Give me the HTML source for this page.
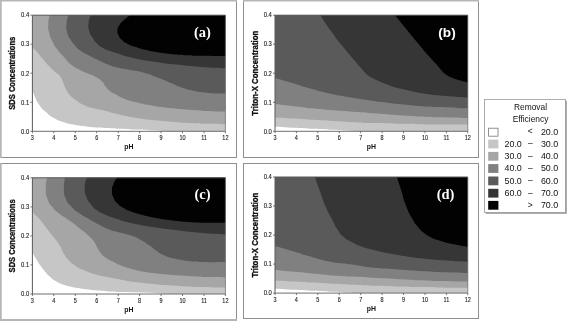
<!DOCTYPE html>
<html><head><meta charset="utf-8"><title>Contour plots</title>
<style>
html,body{margin:0;padding:0;background:#fff;}
body{width:567px;height:321px;overflow:hidden;position:relative;font-family:"Liberation Sans",sans-serif;}
svg{position:absolute;left:0;top:0;display:block;will-change:transform;}
.tk{font-family:"Liberation Sans",sans-serif;font-size:6.4px;fill:#1c1c1c;stroke:#1c1c1c;stroke-width:0.12px;}
.ax{font-family:"Liberation Sans",sans-serif;font-size:8.4px;font-weight:bold;fill:#111;stroke:#111;stroke-width:0.32px;}
.ph{font-family:"Liberation Sans",sans-serif;font-size:6.9px;font-weight:bold;fill:#111;}
.tgs{font-family:"Liberation Serif",serif;font-size:14.5px;font-weight:bold;fill:#fff;}
.tgn{font-family:"Liberation Sans",sans-serif;font-size:13.6px;font-weight:bold;fill:#fff;}
.lg{font-family:"Liberation Sans",sans-serif;font-size:8.4px;fill:#111;}
.ln{font-family:"Liberation Sans",sans-serif;font-size:8.9px;fill:#111;}
</style></head><body>
<svg width="567" height="321" viewBox="0 0 567 321">
<rect x="0" y="0" width="567" height="321" fill="#fff"/>
<rect x="0.00" y="0.00" width="237.00" height="1.50" fill="#b6b6b6"/>
<rect x="0.00" y="0.00" width="1.70" height="158.00" fill="#b6b6b6"/>
<rect x="236.00" y="1.50" width="1.00" height="156.50" fill="#8e8e8e"/>
<rect x="1.40" y="157.00" width="235.60" height="1.00" fill="#8e8e8e"/>
<rect x="243.00" y="0.00" width="236.00" height="1.50" fill="#b6b6b6"/>
<rect x="243.00" y="1.50" width="1.00" height="156.50" fill="#8e8e8e"/>
<rect x="478.00" y="1.50" width="1.00" height="156.50" fill="#8e8e8e"/>
<rect x="243.00" y="157.00" width="236.00" height="1.00" fill="#8e8e8e"/>
<rect x="0.00" y="163.00" width="237.00" height="1.00" fill="#8e8e8e"/>
<rect x="0.00" y="163.00" width="1.70" height="158.00" fill="#b6b6b6"/>
<rect x="236.00" y="163.00" width="1.00" height="157.00" fill="#8e8e8e"/>
<rect x="0.00" y="319.00" width="237.00" height="2.00" fill="#b6b6b6"/>
<rect x="243.00" y="163.00" width="236.00" height="1.00" fill="#8e8e8e"/>
<rect x="243.00" y="163.00" width="1.00" height="156.00" fill="#8e8e8e"/>
<rect x="478.00" y="163.00" width="1.00" height="156.00" fill="#8e8e8e"/>
<rect x="243.00" y="318.00" width="236.00" height="1.00" fill="#8e8e8e"/>
<clipPath id="cpa"><rect x="32.4" y="15.2" width="193.0" height="116.1"/></clipPath>
<g clip-path="url(#cpa)">
<rect x="32.4" y="15.2" width="193.0" height="116.1" fill="#fff"/>
<path d="M27.4 89.3 L32.4 89.3 C33.3 91.9 32.5 91.5 35.0 97.0 C37.5 102.5 36.4 100.9 40.0 105.9 C43.6 110.9 41.3 107.9 45.9 111.9 C50.5 115.9 47.9 114.5 53.9 118.0 C59.9 121.5 56.6 119.9 63.9 122.3 C71.2 124.7 67.2 123.5 75.8 125.1 C84.4 126.7 79.8 126.0 89.8 127.0 C99.8 128.0 95.7 127.4 105.7 128.0 C115.7 128.6 109.9 128.3 119.7 128.8 C129.5 129.3 124.9 129.1 135.0 129.6 C145.1 130.1 139.7 129.7 150.0 130.3 C160.3 130.9 160.7 131.0 166.0 131.3 L169.0 136.3 L230.4 136.3 L230.4 10.2 L27.4 10.2 Z" fill="#c6c6c6"/>
<path d="M27.4 47.5 L32.4 47.5 C33.9 49.0 33.8 48.5 37.0 52.0 C40.2 55.5 38.3 53.7 42.0 58.0 C45.7 62.3 44.0 60.7 48.0 65.0 C52.0 69.3 50.0 67.3 54.0 71.0 C58.0 74.7 56.9 72.3 59.9 76.0 C62.9 79.7 60.9 77.7 62.9 82.0 C64.9 86.3 63.6 84.6 65.9 88.9 C68.2 93.2 66.6 91.2 69.9 94.9 C73.2 98.6 71.2 96.6 75.8 99.9 C80.4 103.2 77.8 102.1 83.8 104.9 C89.8 107.7 86.5 106.3 93.8 108.3 C101.1 110.3 98.6 109.2 105.7 110.9 C112.8 112.6 106.6 111.5 115.0 113.5 C123.4 115.5 120.3 115.0 130.9 117.0 C141.5 119.0 135.6 118.0 146.9 119.4 C158.2 120.8 152.2 120.1 164.8 121.2 C177.4 122.3 171.4 121.9 184.7 122.8 C198.0 123.7 191.1 123.3 204.7 123.8 C218.3 124.3 218.5 124.1 225.4 124.2 L230.4 124.2 L230.4 10.2 L27.4 10.2 Z" fill="#a6a6a6"/>
<path d="M49.6 10.2 L49.6 15.2 C49.2 18.1 48.4 18.1 48.3 24.0 C48.2 29.9 47.8 27.2 49.2 33.0 C50.6 38.8 49.9 36.2 52.5 41.5 C55.1 46.8 53.2 43.8 57.0 49.0 C60.8 54.2 59.3 51.8 64.0 57.0 C68.7 62.2 65.7 60.2 71.0 64.5 C76.3 68.8 74.3 67.0 80.0 70.0 C85.7 73.0 82.7 71.2 88.0 73.5 C93.3 75.8 91.3 74.3 96.0 77.0 C100.7 79.7 98.7 78.2 102.0 81.5 C105.3 84.8 103.3 83.8 106.0 87.0 C108.7 90.2 107.0 88.7 110.0 91.0 C113.0 93.3 110.0 91.4 115.0 94.0 C120.0 96.6 118.4 96.3 125.0 98.9 C131.6 101.5 126.9 99.9 134.9 101.9 C142.9 103.9 138.9 103.0 148.9 104.9 C158.9 106.8 152.9 106.0 164.8 107.5 C176.7 109.0 171.4 108.4 184.7 109.5 C198.0 110.6 191.1 110.2 204.7 110.9 C218.3 111.6 218.5 111.3 225.4 111.5 L230.4 111.5 L230.4 10.2 Z" fill="#808080"/>
<path d="M68.3 10.2 L68.3 15.2 C67.7 18.1 66.9 18.2 66.5 24.0 C66.1 29.8 65.9 27.3 67.2 32.5 C68.5 37.7 67.8 35.1 70.5 39.6 C73.2 44.1 71.8 42.1 75.3 45.9 C78.8 49.7 76.1 47.6 81.0 51.0 C85.9 54.4 83.7 52.7 90.0 56.0 C96.3 59.3 94.0 58.2 100.0 61.0 C106.0 63.8 103.0 62.5 108.0 64.5 C113.0 66.5 109.3 65.5 115.0 67.0 C120.7 68.5 119.0 67.8 125.0 69.0 C131.0 70.2 126.3 69.2 133.0 70.5 C139.7 71.8 136.4 70.5 145.0 73.0 C153.6 75.5 150.2 74.7 158.8 78.0 C167.4 81.3 162.8 79.7 170.8 83.0 C178.8 86.3 174.8 85.3 182.8 87.9 C190.8 90.5 186.1 89.2 194.7 90.9 C203.3 92.6 198.5 92.0 208.7 92.9 C218.9 93.8 219.8 93.3 225.4 93.5 L230.4 93.5 L230.4 10.2 Z" fill="#5a5a5a"/>
<path d="M90.6 10.2 L90.6 15.2 C89.9 17.8 89.1 17.8 88.6 23.0 C88.1 28.2 87.9 26.1 89.2 30.9 C90.5 35.7 89.9 33.3 92.5 37.5 C95.1 41.7 93.5 40.0 97.0 43.5 C100.5 47.0 98.7 45.5 103.0 48.0 C107.3 50.5 105.0 49.2 110.0 51.0 C115.0 52.8 111.3 51.4 118.0 53.5 C124.7 55.6 120.1 54.8 130.0 57.2 C139.9 59.6 135.8 58.7 147.6 60.8 C159.4 62.9 153.5 61.9 165.3 63.4 C177.1 64.9 171.3 64.0 183.0 65.2 C194.7 66.4 186.4 65.9 200.5 66.9 C214.6 67.9 217.1 67.8 225.4 68.3 L230.4 68.3 L230.4 10.2 Z" fill="#363636"/>
<path d="M130.0 10.2 L130.0 15.2 C128.0 16.8 127.5 16.7 124.0 20.0 C120.5 23.3 121.7 21.7 119.5 25.0 C117.3 28.3 117.8 26.7 117.5 30.0 C117.2 33.3 117.0 31.7 118.5 35.0 C120.0 38.3 118.8 37.0 122.0 40.0 C125.2 43.0 123.7 41.7 128.0 44.0 C132.3 46.3 129.3 44.9 135.0 46.8 C140.7 48.7 137.5 48.0 145.0 49.8 C152.5 51.6 149.3 50.9 157.6 52.3 C165.9 53.7 160.9 53.0 170.0 54.0 C179.1 55.0 173.8 54.6 185.0 55.2 C196.2 55.8 190.2 55.5 203.7 55.8 C217.2 56.1 218.2 55.9 225.4 56.0 L230.4 56.0 L230.4 10.2 Z" fill="#020202"/>
</g>
<path d="M32.4 131.3 V15.2 H225.4" fill="none" stroke="#5a5a5a" stroke-width="1"/>
<path d="M32.4 131.3 H225.4" fill="none" stroke="#6e6e6e" stroke-width="1"/>
<path d="M225.4 15.2 V131.3" fill="none" stroke="#777" stroke-width="0.8"/>
<path d="M32.4 131.3 v2" stroke="#555" stroke-width="0.8"/>
<text transform="translate(32.4 140.2) scale(0.86 1)" class="tk" text-anchor="middle">3</text>
<path d="M53.8 131.3 v2" stroke="#555" stroke-width="0.8"/>
<text transform="translate(53.8 140.2) scale(0.86 1)" class="tk" text-anchor="middle">4</text>
<path d="M75.3 131.3 v2" stroke="#555" stroke-width="0.8"/>
<text transform="translate(75.3 140.2) scale(0.86 1)" class="tk" text-anchor="middle">5</text>
<path d="M96.7 131.3 v2" stroke="#555" stroke-width="0.8"/>
<text transform="translate(96.7 140.2) scale(0.86 1)" class="tk" text-anchor="middle">6</text>
<path d="M118.2 131.3 v2" stroke="#555" stroke-width="0.8"/>
<text transform="translate(118.2 140.2) scale(0.86 1)" class="tk" text-anchor="middle">7</text>
<path d="M139.6 131.3 v2" stroke="#555" stroke-width="0.8"/>
<text transform="translate(139.6 140.2) scale(0.86 1)" class="tk" text-anchor="middle">8</text>
<path d="M161.1 131.3 v2" stroke="#555" stroke-width="0.8"/>
<text transform="translate(161.1 140.2) scale(0.86 1)" class="tk" text-anchor="middle">9</text>
<path d="M182.5 131.3 v2" stroke="#555" stroke-width="0.8"/>
<text transform="translate(182.5 140.2) scale(0.86 1)" class="tk" text-anchor="middle">10</text>
<path d="M204.0 131.3 v2" stroke="#555" stroke-width="0.8"/>
<text transform="translate(204.0 140.2) scale(0.86 1)" class="tk" text-anchor="middle">11</text>
<path d="M225.4 131.3 v2" stroke="#555" stroke-width="0.8"/>
<text transform="translate(225.4 140.2) scale(0.86 1)" class="tk" text-anchor="middle">12</text>
<path d="M32.4 131.3 h-2" stroke="#555" stroke-width="0.8"/>
<text transform="translate(29.2 133.5) scale(0.92 1)" class="tk" text-anchor="end">0.0</text>
<path d="M32.4 102.3 h-2" stroke="#555" stroke-width="0.8"/>
<text transform="translate(29.2 104.5) scale(0.92 1)" class="tk" text-anchor="end">0.1</text>
<path d="M32.4 73.2 h-2" stroke="#555" stroke-width="0.8"/>
<text transform="translate(29.2 75.5) scale(0.92 1)" class="tk" text-anchor="end">0.2</text>
<path d="M32.4 44.2 h-2" stroke="#555" stroke-width="0.8"/>
<text transform="translate(29.2 46.4) scale(0.92 1)" class="tk" text-anchor="end">0.3</text>
<path d="M32.4 15.2 h-2" stroke="#555" stroke-width="0.8"/>
<text transform="translate(29.2 17.4) scale(0.92 1)" class="tk" text-anchor="end">0.4</text>
<text x="128.9" y="148.9" class="ph" text-anchor="middle">pH</text>
<text transform="translate(15.4 73.2) rotate(-90)" class="ax" text-anchor="middle" textLength="73" lengthAdjust="spacingAndGlyphs">SDS Concentrations</text>
<text x="202.5" y="36.7" class="tgs" text-anchor="middle">(a)</text>
<clipPath id="cpb"><rect x="275.0" y="15.2" width="192.8" height="116.1"/></clipPath>
<g clip-path="url(#cpb)">
<rect x="275.0" y="15.2" width="192.8" height="116.1" fill="#fff"/>
<path d="M270.0 126.8 L275.0 126.8 C280.7 127.1 279.7 127.1 292.0 127.8 C304.3 128.5 298.6 128.1 311.9 128.8 C325.2 129.5 320.8 129.2 331.8 129.8 C342.8 130.4 337.3 130.1 345.0 130.6 C352.7 131.1 351.7 131.1 355.0 131.3 L358.0 136.3 L472.8 136.3 L472.8 10.2 L270.0 10.2 Z" fill="#c6c6c6"/>
<path d="M270.0 117.8 L275.0 117.8 C280.7 118.0 279.7 117.7 292.0 118.4 C304.3 119.1 298.6 118.9 311.9 119.8 C325.2 120.7 318.5 120.2 331.8 121.0 C345.1 121.8 338.4 121.5 351.7 122.2 C365.0 122.9 356.2 122.6 371.6 123.1 C387.0 123.6 382.5 123.4 397.9 123.8 C413.3 124.2 404.5 124.0 417.8 124.2 C431.1 124.4 421.0 124.3 437.7 124.4 C454.4 124.5 457.8 124.5 467.8 124.6 L472.8 124.6 L472.8 10.2 L270.0 10.2 Z" fill="#a6a6a6"/>
<path d="M270.0 103.9 L275.0 103.9 C280.7 104.6 279.7 104.4 292.0 105.9 C304.3 107.4 298.6 106.8 311.9 108.3 C325.2 109.8 318.5 109.1 331.8 110.3 C345.1 111.5 338.4 110.8 351.7 111.8 C365.0 112.8 356.2 112.1 371.6 113.2 C387.0 114.3 382.5 114.1 397.9 115.2 C413.3 116.3 404.5 115.7 417.8 116.4 C431.1 117.1 421.0 116.7 437.7 117.2 C454.4 117.7 457.8 117.7 467.8 118.0 L472.8 118.0 L472.8 10.2 L270.0 10.2 Z" fill="#808080"/>
<path d="M270.0 78.0 L275.0 78.0 C280.7 79.7 279.7 79.4 292.0 83.0 C304.3 86.6 298.6 85.3 311.9 88.9 C325.2 92.5 318.5 91.0 331.8 93.9 C345.1 96.8 338.4 95.2 351.7 97.5 C365.0 99.8 356.2 98.6 371.6 100.7 C387.0 102.8 382.5 102.2 397.9 103.9 C413.3 105.6 404.5 104.8 417.8 105.9 C431.1 107.0 424.4 106.4 437.7 107.1 C451.0 107.8 447.6 107.5 457.6 107.9 C467.6 108.3 464.4 108.2 467.8 108.3 L472.8 108.3 L472.8 10.2 L270.0 10.2 Z" fill="#5a5a5a"/>
<path d="M320.3 10.2 L320.3 15.2 C324.3 21.1 324.8 22.4 332.4 33.0 C340.0 43.6 335.9 37.9 343.2 46.9 C350.5 55.9 348.2 52.9 354.2 60.0 C360.2 67.1 357.4 63.9 361.2 68.3 C365.0 72.7 363.3 70.8 365.7 73.3 C368.1 75.8 366.4 74.3 368.5 75.8 C370.6 77.3 368.8 76.1 372.0 77.8 C375.2 79.5 372.7 78.5 378.0 80.8 C383.3 83.1 381.3 82.4 387.9 84.8 C394.5 87.2 387.9 85.6 397.9 88.1 C407.9 90.6 404.5 90.0 417.8 92.4 C431.1 94.8 424.4 93.8 437.7 95.3 C451.0 96.8 447.6 96.3 457.6 97.0 C467.6 97.7 464.4 97.3 467.8 97.5 L472.8 97.5 L472.8 10.2 Z" fill="#363636"/>
<path d="M394.9 10.2 L394.9 15.2 C399.2 20.4 400.2 21.7 407.8 30.9 C415.4 40.1 411.2 34.9 417.8 42.9 C424.4 50.9 421.5 47.6 427.7 54.8 C433.9 62.0 431.7 59.1 436.5 64.5 C441.3 69.9 439.0 67.7 442.0 71.0 C445.0 74.3 443.3 72.6 445.5 74.3 C447.7 76.0 446.1 75.0 448.5 76.2 C450.9 77.4 448.9 76.5 452.6 77.9 C456.3 79.3 454.6 78.8 459.7 80.3 C464.8 81.8 465.1 81.8 467.8 82.5 L472.8 82.5 L472.8 10.2 Z" fill="#020202"/>
</g>
<path d="M275.0 131.3 V15.2 H467.8" fill="none" stroke="#5a5a5a" stroke-width="1"/>
<path d="M275.0 131.3 H467.8" fill="none" stroke="#6e6e6e" stroke-width="1"/>
<path d="M467.8 15.2 V131.3" fill="none" stroke="#777" stroke-width="0.8"/>
<path d="M275.0 131.3 v2" stroke="#555" stroke-width="0.8"/>
<text transform="translate(275.0 140.2) scale(0.86 1)" class="tk" text-anchor="middle">3</text>
<path d="M296.4 131.3 v2" stroke="#555" stroke-width="0.8"/>
<text transform="translate(296.4 140.2) scale(0.86 1)" class="tk" text-anchor="middle">4</text>
<path d="M317.8 131.3 v2" stroke="#555" stroke-width="0.8"/>
<text transform="translate(317.8 140.2) scale(0.86 1)" class="tk" text-anchor="middle">5</text>
<path d="M339.3 131.3 v2" stroke="#555" stroke-width="0.8"/>
<text transform="translate(339.3 140.2) scale(0.86 1)" class="tk" text-anchor="middle">6</text>
<path d="M360.7 131.3 v2" stroke="#555" stroke-width="0.8"/>
<text transform="translate(360.7 140.2) scale(0.86 1)" class="tk" text-anchor="middle">7</text>
<path d="M382.1 131.3 v2" stroke="#555" stroke-width="0.8"/>
<text transform="translate(382.1 140.2) scale(0.86 1)" class="tk" text-anchor="middle">8</text>
<path d="M403.5 131.3 v2" stroke="#555" stroke-width="0.8"/>
<text transform="translate(403.5 140.2) scale(0.86 1)" class="tk" text-anchor="middle">9</text>
<path d="M425.0 131.3 v2" stroke="#555" stroke-width="0.8"/>
<text transform="translate(425.0 140.2) scale(0.86 1)" class="tk" text-anchor="middle">10</text>
<path d="M446.4 131.3 v2" stroke="#555" stroke-width="0.8"/>
<text transform="translate(446.4 140.2) scale(0.86 1)" class="tk" text-anchor="middle">11</text>
<path d="M467.8 131.3 v2" stroke="#555" stroke-width="0.8"/>
<text transform="translate(467.8 140.2) scale(0.86 1)" class="tk" text-anchor="middle">12</text>
<path d="M275.0 131.3 h-2" stroke="#555" stroke-width="0.8"/>
<text transform="translate(271.8 133.5) scale(0.92 1)" class="tk" text-anchor="end">0.0</text>
<path d="M275.0 102.3 h-2" stroke="#555" stroke-width="0.8"/>
<text transform="translate(271.8 104.5) scale(0.92 1)" class="tk" text-anchor="end">0.1</text>
<path d="M275.0 73.2 h-2" stroke="#555" stroke-width="0.8"/>
<text transform="translate(271.8 75.5) scale(0.92 1)" class="tk" text-anchor="end">0.2</text>
<path d="M275.0 44.2 h-2" stroke="#555" stroke-width="0.8"/>
<text transform="translate(271.8 46.4) scale(0.92 1)" class="tk" text-anchor="end">0.3</text>
<path d="M275.0 15.2 h-2" stroke="#555" stroke-width="0.8"/>
<text transform="translate(271.8 17.4) scale(0.92 1)" class="tk" text-anchor="end">0.4</text>
<text x="371.4" y="148.9" class="ph" text-anchor="middle">pH</text>
<text transform="translate(258.0 73.2) rotate(-90)" class="ax" text-anchor="middle" textLength="85" lengthAdjust="spacingAndGlyphs">Triton-X Concentration</text>
<text x="447.0" y="36.7" class="tgn" text-anchor="middle">(b)</text>
<clipPath id="cpc"><rect x="32.4" y="177.8" width="193.0" height="116.2"/></clipPath>
<g clip-path="url(#cpc)">
<rect x="32.4" y="177.8" width="193.0" height="116.2" fill="#fff"/>
<path d="M27.4 252.5 L32.4 252.5 C33.6 254.6 33.5 254.6 36.0 258.8 C38.5 263.0 37.0 260.8 40.0 265.0 C43.0 269.2 41.7 267.6 45.0 271.5 C48.3 275.4 46.3 273.5 50.0 276.8 C53.7 280.1 51.7 278.7 56.0 281.3 C60.3 283.9 57.7 282.7 63.0 284.6 C68.3 286.5 65.7 285.6 72.0 287.0 C78.3 288.4 74.3 287.6 82.0 288.7 C89.7 289.8 85.7 289.4 95.0 290.3 C104.3 291.2 100.0 290.8 110.0 291.4 C120.0 292.0 113.3 291.7 125.0 292.1 C136.7 292.5 131.7 292.0 145.0 292.6 C158.3 293.2 158.3 293.5 165.0 294.0 L168.0 299.0 L230.4 299.0 L230.4 172.8 L27.4 172.8 Z" fill="#c6c6c6"/>
<path d="M27.4 212.0 L32.4 212.0 C34.9 214.6 35.5 214.6 40.0 219.8 C44.5 225.0 42.3 222.8 46.0 227.5 C49.7 232.2 47.7 229.8 51.0 234.0 C54.3 238.2 53.0 236.0 56.0 240.0 C59.0 244.0 57.5 241.7 60.0 246.0 C62.5 250.3 60.7 248.3 63.5 253.0 C66.3 257.7 64.4 255.7 68.5 260.0 C72.6 264.3 70.0 262.3 75.8 266.0 C81.6 269.7 78.5 268.0 85.8 271.0 C93.1 274.0 89.8 272.8 97.8 275.0 C105.8 277.2 102.3 276.0 109.7 277.5 C117.1 279.0 113.2 278.2 120.0 279.5 C126.8 280.8 121.5 280.2 130.0 281.4 C138.5 282.6 134.5 282.0 145.6 283.2 C156.7 284.4 151.5 284.0 163.3 285.0 C175.1 286.0 169.2 285.5 180.9 286.2 C192.6 286.9 183.7 286.5 198.5 287.0 C213.3 287.5 216.4 287.4 225.4 287.6 L230.4 287.6 L230.4 172.8 L27.4 172.8 Z" fill="#a6a6a6"/>
<path d="M47.0 172.8 L47.0 177.8 C46.6 181.5 45.6 182.0 45.8 189.0 C46.0 196.0 45.4 192.9 47.6 198.9 C49.8 204.9 48.2 201.9 52.3 206.9 C56.4 211.9 54.0 209.3 59.9 213.9 C65.8 218.5 63.3 215.9 69.9 220.8 C76.5 225.7 73.8 223.8 79.8 228.5 C85.8 233.2 83.2 230.8 87.8 235.0 C92.4 239.2 90.5 237.2 93.5 241.0 C96.5 244.8 94.6 242.8 96.8 246.5 C99.0 250.2 97.1 248.3 100.0 252.0 C102.9 255.7 100.9 254.2 105.5 257.5 C110.1 260.8 108.5 259.3 113.7 262.0 C118.9 264.7 115.6 263.3 121.0 265.5 C126.4 267.7 123.0 266.5 130.0 268.5 C137.0 270.5 133.3 269.8 142.0 271.5 C150.7 273.2 146.2 272.3 156.2 273.5 C166.2 274.7 160.8 274.1 172.0 275.0 C183.2 275.9 177.9 275.5 189.7 276.2 C201.5 276.9 195.5 276.6 207.4 277.0 C219.3 277.4 219.4 277.3 225.4 277.4 L230.4 277.4 L230.4 172.8 Z" fill="#808080"/>
<path d="M64.9 172.8 L64.9 177.8 C64.6 181.5 63.6 182.0 63.9 189.0 C64.2 196.0 63.3 192.9 65.9 198.9 C68.5 204.9 67.2 202.0 71.8 206.9 C76.4 211.8 73.8 209.3 79.8 213.5 C85.8 217.7 83.2 215.7 89.8 219.5 C96.4 223.3 93.3 221.7 99.7 225.0 C106.1 228.3 103.0 227.2 109.0 229.5 C115.0 231.8 112.1 230.5 117.7 232.0 C123.3 233.5 120.4 232.5 125.7 234.0 C131.0 235.5 128.5 234.4 133.6 236.4 C138.7 238.4 135.8 237.0 141.0 240.0 C146.2 243.0 144.1 241.8 149.2 245.3 C154.3 248.8 151.5 247.4 156.2 250.6 C160.9 253.8 157.4 252.4 163.3 255.0 C169.2 257.6 166.3 256.6 173.9 258.5 C181.5 260.4 176.8 259.6 186.2 260.8 C195.6 262.0 188.9 261.6 202.0 262.0 C215.1 262.4 217.6 262.0 225.4 262.0 L230.4 262.0 L230.4 172.8 Z" fill="#5a5a5a"/>
<path d="M86.8 172.8 L86.8 177.8 C86.1 180.9 84.9 180.6 84.8 187.0 C84.7 193.4 84.2 190.9 86.4 196.9 C88.6 202.9 88.3 200.7 91.5 204.9 C94.7 209.1 91.9 206.5 96.0 209.5 C100.1 212.5 97.4 211.1 103.7 214.0 C110.0 216.9 107.2 215.6 115.0 218.3 C122.8 221.0 117.0 219.5 127.0 222.0 C137.0 224.5 132.3 223.5 144.9 225.8 C157.5 228.1 151.5 227.0 164.8 228.8 C178.1 230.6 171.4 229.7 184.7 231.2 C198.0 232.7 191.1 232.1 204.7 233.2 C218.3 234.3 218.5 234.0 225.4 234.4 L230.4 234.4 L230.4 172.8 Z" fill="#363636"/>
<path d="M117.0 172.8 L117.0 177.8 C115.8 179.9 115.2 179.6 113.5 184.0 C111.8 188.4 112.0 186.5 112.0 191.0 C112.0 195.5 111.8 193.5 113.5 197.5 C115.2 201.5 113.7 199.5 117.0 203.0 C120.3 206.5 118.8 205.2 123.5 208.0 C128.2 210.8 125.9 209.5 131.0 211.5 C136.1 213.5 130.9 211.9 138.9 214.0 C146.9 216.1 142.9 215.5 154.9 217.8 C166.9 220.1 161.5 219.3 174.8 220.8 C188.1 222.3 177.8 221.7 194.7 222.4 C211.6 223.1 215.2 222.7 225.4 222.8 L230.4 222.8 L230.4 172.8 Z" fill="#020202"/>
</g>
<path d="M32.4 294.0 V177.8 H225.4" fill="none" stroke="#5a5a5a" stroke-width="1"/>
<path d="M32.4 294.0 H225.4" fill="none" stroke="#6e6e6e" stroke-width="1"/>
<path d="M225.4 177.8 V294.0" fill="none" stroke="#777" stroke-width="0.8"/>
<path d="M32.4 294.0 v2" stroke="#555" stroke-width="0.8"/>
<text transform="translate(32.4 302.9) scale(0.86 1)" class="tk" text-anchor="middle">3</text>
<path d="M53.8 294.0 v2" stroke="#555" stroke-width="0.8"/>
<text transform="translate(53.8 302.9) scale(0.86 1)" class="tk" text-anchor="middle">4</text>
<path d="M75.3 294.0 v2" stroke="#555" stroke-width="0.8"/>
<text transform="translate(75.3 302.9) scale(0.86 1)" class="tk" text-anchor="middle">5</text>
<path d="M96.7 294.0 v2" stroke="#555" stroke-width="0.8"/>
<text transform="translate(96.7 302.9) scale(0.86 1)" class="tk" text-anchor="middle">6</text>
<path d="M118.2 294.0 v2" stroke="#555" stroke-width="0.8"/>
<text transform="translate(118.2 302.9) scale(0.86 1)" class="tk" text-anchor="middle">7</text>
<path d="M139.6 294.0 v2" stroke="#555" stroke-width="0.8"/>
<text transform="translate(139.6 302.9) scale(0.86 1)" class="tk" text-anchor="middle">8</text>
<path d="M161.1 294.0 v2" stroke="#555" stroke-width="0.8"/>
<text transform="translate(161.1 302.9) scale(0.86 1)" class="tk" text-anchor="middle">9</text>
<path d="M182.5 294.0 v2" stroke="#555" stroke-width="0.8"/>
<text transform="translate(182.5 302.9) scale(0.86 1)" class="tk" text-anchor="middle">10</text>
<path d="M204.0 294.0 v2" stroke="#555" stroke-width="0.8"/>
<text transform="translate(204.0 302.9) scale(0.86 1)" class="tk" text-anchor="middle">11</text>
<path d="M225.4 294.0 v2" stroke="#555" stroke-width="0.8"/>
<text transform="translate(225.4 302.9) scale(0.86 1)" class="tk" text-anchor="middle">12</text>
<path d="M32.4 294.0 h-2" stroke="#555" stroke-width="0.8"/>
<text transform="translate(29.2 296.2) scale(0.92 1)" class="tk" text-anchor="end">0.0</text>
<path d="M32.4 264.9 h-2" stroke="#555" stroke-width="0.8"/>
<text transform="translate(29.2 267.1) scale(0.92 1)" class="tk" text-anchor="end">0.1</text>
<path d="M32.4 235.9 h-2" stroke="#555" stroke-width="0.8"/>
<text transform="translate(29.2 238.1) scale(0.92 1)" class="tk" text-anchor="end">0.2</text>
<path d="M32.4 206.9 h-2" stroke="#555" stroke-width="0.8"/>
<text transform="translate(29.2 209.1) scale(0.92 1)" class="tk" text-anchor="end">0.3</text>
<path d="M32.4 177.8 h-2" stroke="#555" stroke-width="0.8"/>
<text transform="translate(29.2 180.0) scale(0.92 1)" class="tk" text-anchor="end">0.4</text>
<text x="128.9" y="311.6" class="ph" text-anchor="middle">pH</text>
<text transform="translate(15.4 235.9) rotate(-90)" class="ax" text-anchor="middle" textLength="73" lengthAdjust="spacingAndGlyphs">SDS Concentrations</text>
<text x="202.5" y="199.3" class="tgs" text-anchor="middle">(c)</text>
<clipPath id="cpd"><rect x="275.0" y="177.0" width="192.8" height="116.1"/></clipPath>
<g clip-path="url(#cpd)">
<rect x="275.0" y="177.0" width="192.8" height="116.1" fill="#fff"/>
<path d="M270.0 288.8 L275.0 288.8 C280.7 289.1 279.7 289.1 292.0 289.8 C304.3 290.5 298.6 290.1 311.9 290.8 C325.2 291.5 320.8 291.2 331.8 291.8 C342.8 292.4 337.3 292.1 345.0 292.5 C352.7 292.9 351.7 292.9 355.0 293.1 L358.0 298.1 L472.8 298.1 L472.8 172.0 L270.0 172.0 Z" fill="#c6c6c6"/>
<path d="M270.0 280.8 L275.0 280.8 C280.7 281.0 279.7 280.8 292.0 281.4 C304.3 282.0 298.6 281.8 311.9 282.6 C325.2 283.4 318.5 283.1 331.8 283.8 C345.1 284.5 338.4 284.2 351.7 284.8 C365.0 285.4 356.2 285.2 371.6 285.7 C387.0 286.2 382.5 286.0 397.9 286.4 C413.3 286.8 404.5 286.7 417.8 287.0 C431.1 287.3 421.0 287.1 437.7 287.4 C454.4 287.7 457.8 287.7 467.8 287.8 L472.8 287.8 L472.8 172.0 L270.0 172.0 Z" fill="#a6a6a6"/>
<path d="M270.0 269.9 L275.0 269.9 C280.7 270.4 279.7 270.3 292.0 271.5 C304.3 272.7 298.6 272.2 311.9 273.5 C325.2 274.8 318.5 274.4 331.8 275.4 C345.1 276.4 338.4 275.8 351.7 276.6 C365.0 277.4 356.2 276.9 371.6 277.8 C387.0 278.7 382.5 278.4 397.9 279.2 C413.3 280.0 404.5 279.6 417.8 280.2 C431.1 280.8 421.0 280.5 437.7 281.0 C454.4 281.5 457.8 281.4 467.8 281.6 L472.8 281.6 L472.8 172.0 L270.0 172.0 Z" fill="#808080"/>
<path d="M270.0 246.0 L275.0 246.0 C280.7 247.6 279.7 247.3 292.0 250.9 C304.3 254.5 298.6 253.2 311.9 256.9 C325.2 260.6 318.5 259.4 331.8 261.9 C345.1 264.4 338.4 262.6 351.7 264.5 C365.0 266.4 356.2 265.8 371.6 267.5 C387.0 269.2 382.5 268.3 397.9 269.5 C413.3 270.7 404.5 270.2 417.8 271.0 C431.1 271.8 421.0 271.3 437.7 272.0 C454.4 272.7 457.8 272.7 467.8 273.0 L472.8 273.0 L472.8 172.0 L270.0 172.0 Z" fill="#5a5a5a"/>
<path d="M314.8 172.0 L314.8 177.0 C316.5 181.7 316.1 181.0 319.8 191.0 C323.5 201.0 321.8 197.6 325.8 206.9 C329.8 216.2 327.8 211.1 331.8 218.8 C335.8 226.5 333.8 223.9 337.8 230.0 C341.8 236.1 339.1 233.0 343.7 237.0 C348.3 241.0 345.7 238.8 351.7 242.0 C357.7 245.2 353.0 243.5 361.7 246.5 C370.4 249.5 365.8 248.1 377.9 250.9 C390.0 253.7 384.6 252.6 397.9 254.9 C411.2 257.2 404.5 256.2 417.8 257.9 C431.1 259.6 424.4 258.8 437.7 259.9 C451.0 261.0 447.6 260.6 457.6 261.3 C467.6 262.0 464.4 261.7 467.8 261.9 L472.8 261.9 L472.8 172.0 Z" fill="#363636"/>
<path d="M396.9 172.0 L396.9 177.0 C398.2 181.0 397.8 179.7 400.8 189.0 C403.8 198.3 402.1 195.3 405.8 204.9 C409.5 214.5 407.8 210.5 411.8 217.8 C415.8 225.1 413.8 221.8 417.8 226.8 C421.8 231.8 419.2 229.1 423.8 232.8 C428.4 236.5 427.1 235.4 431.7 237.8 C436.3 240.2 432.4 238.3 437.7 240.0 C443.0 241.7 441.1 241.3 447.7 243.0 C454.3 244.7 450.9 243.7 457.6 245.0 C464.3 246.3 464.4 246.3 467.8 246.9 L472.8 246.9 L472.8 172.0 Z" fill="#020202"/>
</g>
<path d="M275.0 293.1 V177.0 H467.8" fill="none" stroke="#5a5a5a" stroke-width="1"/>
<path d="M275.0 293.1 H467.8" fill="none" stroke="#6e6e6e" stroke-width="1"/>
<path d="M467.8 177.0 V293.1" fill="none" stroke="#777" stroke-width="0.8"/>
<path d="M275.0 293.1 v2" stroke="#555" stroke-width="0.8"/>
<text transform="translate(275.0 302.0) scale(0.86 1)" class="tk" text-anchor="middle">3</text>
<path d="M296.4 293.1 v2" stroke="#555" stroke-width="0.8"/>
<text transform="translate(296.4 302.0) scale(0.86 1)" class="tk" text-anchor="middle">4</text>
<path d="M317.8 293.1 v2" stroke="#555" stroke-width="0.8"/>
<text transform="translate(317.8 302.0) scale(0.86 1)" class="tk" text-anchor="middle">5</text>
<path d="M339.3 293.1 v2" stroke="#555" stroke-width="0.8"/>
<text transform="translate(339.3 302.0) scale(0.86 1)" class="tk" text-anchor="middle">6</text>
<path d="M360.7 293.1 v2" stroke="#555" stroke-width="0.8"/>
<text transform="translate(360.7 302.0) scale(0.86 1)" class="tk" text-anchor="middle">7</text>
<path d="M382.1 293.1 v2" stroke="#555" stroke-width="0.8"/>
<text transform="translate(382.1 302.0) scale(0.86 1)" class="tk" text-anchor="middle">8</text>
<path d="M403.5 293.1 v2" stroke="#555" stroke-width="0.8"/>
<text transform="translate(403.5 302.0) scale(0.86 1)" class="tk" text-anchor="middle">9</text>
<path d="M425.0 293.1 v2" stroke="#555" stroke-width="0.8"/>
<text transform="translate(425.0 302.0) scale(0.86 1)" class="tk" text-anchor="middle">10</text>
<path d="M446.4 293.1 v2" stroke="#555" stroke-width="0.8"/>
<text transform="translate(446.4 302.0) scale(0.86 1)" class="tk" text-anchor="middle">11</text>
<path d="M467.8 293.1 v2" stroke="#555" stroke-width="0.8"/>
<text transform="translate(467.8 302.0) scale(0.86 1)" class="tk" text-anchor="middle">12</text>
<path d="M275.0 293.1 h-2" stroke="#555" stroke-width="0.8"/>
<text transform="translate(271.8 295.3) scale(0.92 1)" class="tk" text-anchor="end">0.0</text>
<path d="M275.0 264.1 h-2" stroke="#555" stroke-width="0.8"/>
<text transform="translate(271.8 266.3) scale(0.92 1)" class="tk" text-anchor="end">0.1</text>
<path d="M275.0 235.1 h-2" stroke="#555" stroke-width="0.8"/>
<text transform="translate(271.8 237.2) scale(0.92 1)" class="tk" text-anchor="end">0.2</text>
<path d="M275.0 206.0 h-2" stroke="#555" stroke-width="0.8"/>
<text transform="translate(271.8 208.2) scale(0.92 1)" class="tk" text-anchor="end">0.3</text>
<path d="M275.0 177.0 h-2" stroke="#555" stroke-width="0.8"/>
<text transform="translate(271.8 179.2) scale(0.92 1)" class="tk" text-anchor="end">0.4</text>
<text x="371.4" y="310.7" class="ph" text-anchor="middle">pH</text>
<text transform="translate(258.0 235.1) rotate(-90)" class="ax" text-anchor="middle" textLength="85" lengthAdjust="spacingAndGlyphs">Triton-X Concentration</text>
<text x="445.5" y="198.5" class="tgs" text-anchor="middle">(d)</text>
<rect x="485.7" y="100.7" width="81.0" height="113.0" fill="#8a8a8a"/>
<rect x="484.5" y="99.5" width="81.0" height="113.0" fill="#fff" stroke="#9a9a9a" stroke-width="0.8"/>
<text x="530.5" y="109.8" class="lg" text-anchor="middle">Removal</text>
<text x="530.5" y="121.8" class="lg" text-anchor="middle">Efficiency</text>
<rect x="488.6" y="128.2" width="9.4" height="8" fill="#fff" stroke="#777" stroke-width="0.8"/>
<text x="530.3" y="134.2" class="lg" text-anchor="middle">&lt;</text>
<text x="558.2" y="134.6" class="ln" text-anchor="end">20.0</text>
<rect x="488.2" y="139.6" width="10.2" height="8.8" fill="#c6c6c6"/>
<text x="521.8" y="146.8" class="ln" text-anchor="end">20.0</text>
<text x="530.3" y="146.4" class="lg" text-anchor="middle">–</text>
<text x="558.2" y="146.8" class="ln" text-anchor="end">30.0</text>
<rect x="488.2" y="151.9" width="10.2" height="8.8" fill="#a6a6a6"/>
<text x="521.8" y="159.1" class="ln" text-anchor="end">30.0</text>
<text x="530.3" y="158.7" class="lg" text-anchor="middle">–</text>
<text x="558.2" y="159.1" class="ln" text-anchor="end">40.0</text>
<rect x="488.2" y="164.1" width="10.2" height="8.8" fill="#808080"/>
<text x="521.8" y="171.3" class="ln" text-anchor="end">40.0</text>
<text x="530.3" y="170.9" class="lg" text-anchor="middle">–</text>
<text x="558.2" y="171.3" class="ln" text-anchor="end">50.0</text>
<rect x="488.2" y="176.5" width="10.2" height="8.8" fill="#5a5a5a"/>
<text x="521.8" y="183.7" class="ln" text-anchor="end">50.0</text>
<text x="530.3" y="183.3" class="lg" text-anchor="middle">–</text>
<text x="558.2" y="183.7" class="ln" text-anchor="end">60.0</text>
<rect x="488.2" y="188.8" width="10.2" height="8.8" fill="#363636"/>
<text x="521.8" y="196.0" class="ln" text-anchor="end">60.0</text>
<text x="530.3" y="195.6" class="lg" text-anchor="middle">–</text>
<text x="558.2" y="196.0" class="ln" text-anchor="end">70.0</text>
<rect x="488.2" y="200.9" width="10.2" height="8.8" fill="#020202"/>
<text x="530.3" y="207.7" class="lg" text-anchor="middle">&gt;</text>
<text x="558.2" y="208.1" class="ln" text-anchor="end">70.0</text>
</svg>
</body></html>
